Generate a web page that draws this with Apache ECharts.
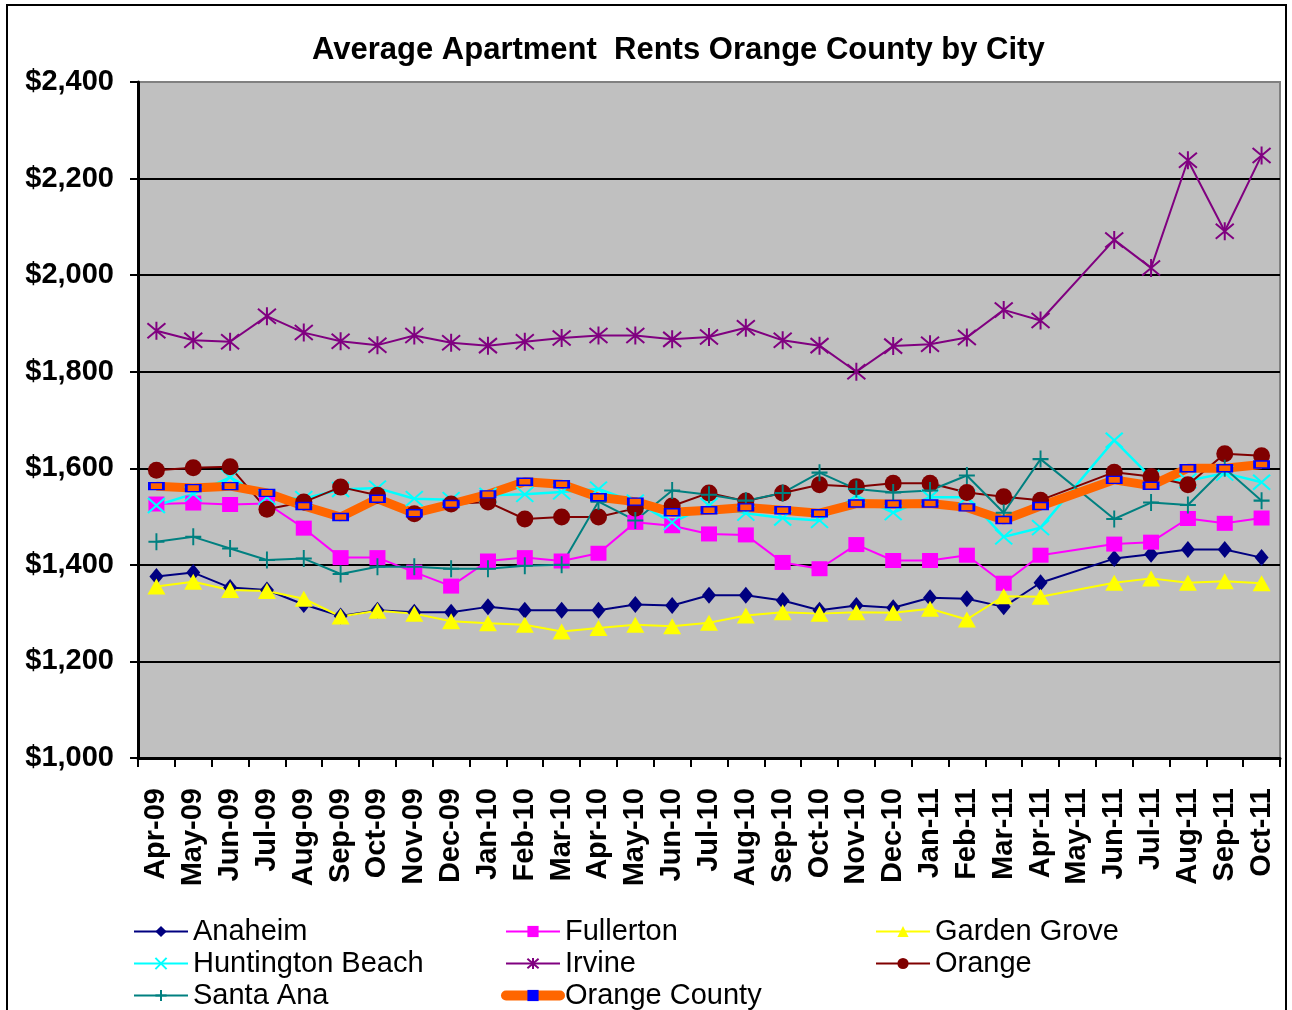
<!DOCTYPE html>
<html>
<head>
<meta charset="utf-8">
<title>Average Apartment Rents Orange County by City</title>
<script src="https://cdn.jsdelivr.net/npm/echarts@6/dist/echarts.min.js"></script>
<style>
  html, body { margin: 0; padding: 0; background: #ffffff; }
  #chart { width: 1292px; height: 1010px; }
</style>
</head>
<body>
<div id="chart"></div>
<script>
// Months on the category axis
const months = ['Apr-09','May-09','Jun-09','Jul-09','Aug-09','Sep-09','Oct-09','Nov-09','Dec-09',
  'Jan-10','Feb-10','Mar-10','Apr-10','May-10','Jun-10','Jul-10','Aug-10','Sep-10','Oct-10','Nov-10','Dec-10',
  'Jan-11','Feb-11','Mar-11','Apr-11','May-11','Jun-11','Jul-11','Aug-11','Sep-11','Oct-11'];

// Average rent per city (May-11 not reported)
const anaheim = [1376,1384,1353,1348,1318,1294,1306,1302,1302,1313,1306,1306,1306,1318,1316,1337,1337,1326,1306,1316,1311,1332,1330,1313,1363,null,1413,1422,1432,1432,1415];
const fullerton = [1526,1528,1525,1527,1476,1415,1415,1385,1356,1408,1415,1408,1424,1488,1481,1464,1462,1405,1392,1442,1409,1409,1420,1362,1420,null,1443,1447,1496,1486,1497];
const gardenGrove = [1355,1365,1348,1346,1330,1293,1305,1299,1283,1279,1276,1262,1269,1276,1273,1280,1295,1302,1299,1302,1301,1309,1287,1335,1334,null,1363,1372,1363,1366,1362];
const huntingtonBeach = [1523,1547,1581,1540,1537,1556,1559,1537,1535,1544,1546,1551,1557,1530,1488,1523,1507,1497,1492,1543,1508,1540,1540,1458,1477,null,1658,1581,1574,1590,1571];
const irvine = [1885,1865,1862,1915,1881,1863,1855,1875,1860,1854,1862,1870,1875,1875,1867,1872,1891,1865,1854,1800,1853,1857,1871,1928,1906,null,2073,2015,2238,2091,2248];
const orange = [1596,1601,1603,1515,1530,1561,1544,1506,1526,1530,1495,1499,1499,1517,1522,1549,1532,1549,1566,1562,1569,1569,1550,1541,1534,null,1592,1583,1566,1630,1626];
const santaAna = [1448,1458,1434,1410,1413,1381,1396,1396,1392,1392,1398,1400,1531,1492,1554,1545,1533,1549,1591,1557,1550,1554,1585,1508,1619,null,1495,1529,1524,1600,1533];
const orangeCounty = [1563,1559,1563,1549,1522,1499,1537,1507,1526,1546,1572,1567,1540,1531,1509,1513,1519,1513,1507,1527,1526,1527,1519,1493,1522,null,1576,1564,1600,1600,1608];

// Value axis range
const rentMin = 1000, rentMax = 2400, rentStep = 200;

const FONT = "'Liberation Sans', Arial, sans-serif";

function money(v) {
  return '$' + String(v).replace(/\B(?=(\d{3})+(?!\d))/g, ',');
}

function lineSeries(name, data, color, symbol, size, extra) {
  const s = {
    name: name,
    type: 'line',
    data: data,
    connectNulls: true,
    symbol: symbol,
    symbolSize: size,
    itemStyle: { color: color },
    lineStyle: { color: color, width: 2 },
    emphasis: { disabled: true }
  };
  return Object.assign(s, extra || {});
}

const chart = echarts.init(document.getElementById('chart'), null, { renderer: 'canvas' });

const legendText = { fontFamily: FONT, fontSize: 29, color: '#000' };
const legendBase = {
  orient: 'vertical',
  top: 917,
  itemWidth: 54,
  itemHeight: 14,
  itemGap: 3,
  padding: 0,
  textStyle: legendText,
  selectedMode: false
};

chart.setOption({
  animation: false,
  backgroundColor: '#ffffff',
  title: {
    text: 'Average Apartment  Rents Orange County by City',
    left: 307,
    top: 30,
    textStyle: { fontFamily: FONT, fontSize: 31, fontWeight: 'bold', color: '#000' }
  },
  graphic: [{
    type: 'rect',
    shape: { x: 7, y: 5, width: 1279, height: 1030 },
    style: { fill: 'none', stroke: '#000', lineWidth: 2 },
    silent: true,
    z: 100
  }],
  legend: [
    Object.assign({ left: 133, data: ['Anaheim', 'Huntington Beach', 'Santa Ana'] }, legendBase),
    Object.assign({ left: 501, data: ['Fullerton', 'Irvine', {
      name: 'Orange County',
      lineStyle: { color: '#FF6600', width: 10, cap: 'round' },
      itemStyle: { color: '#0000FF', borderWidth: 0 }
    }] }, legendBase),
    Object.assign({ left: 875, data: ['Garden Grove', 'Orange'] }, legendBase)
  ],
  grid: {
    left: 138, right: 12, top: 82, bottom: 252,
    show: true,
    backgroundColor: '#C0C0C0',
    borderColor: '#808080',
    borderWidth: 2,
    outerBoundsMode: 'none'
  },
  xAxis: {
    type: 'category',
    data: months,
    boundaryGap: true,
    axisLine: { show: true, lineStyle: { color: '#000', width: 3 } },
    axisTick: { show: true, length: 9, lineStyle: { color: '#000', width: 2 } },
    axisLabel: {
      rotate: 90,
      interval: 0,
      margin: 30,
      fontFamily: FONT,
      fontSize: 29,
      fontWeight: 'bold',
      color: '#000'
    },
    splitLine: { show: false }
  },
  yAxis: {
    type: 'value',
    min: rentMin,
    max: rentMax,
    interval: rentStep,
    axisLine: { show: true, lineStyle: { color: '#000', width: 3 } },
    axisTick: { show: true, length: 8, lineStyle: { color: '#000', width: 2 } },
    axisLabel: {
      margin: 24,
      formatter: money,
      fontFamily: FONT,
      fontSize: 29,
      fontWeight: 'bold',
      color: '#000'
    },
    splitLine: {
      show: true,
      lineStyle: {
        color: ['#000','#000','#000','#000','#000','#000','#000','#808080'],
        width: 2
      }
    }
  },
  series: [
    lineSeries('Anaheim', anaheim, '#000080', 'diamond', [14, 17]),
    lineSeries('Fullerton', fullerton, '#FF00FF', 'rect', [16, 15]),
    lineSeries('Garden Grove', gardenGrove, '#FFFF00', 'triangle', [18, 16]),
    lineSeries('Huntington Beach', huntingtonBeach, '#00FFFF', 'path://M0,0L10,10M10,0L0,10', [17, 15], {
      itemStyle: { color: '#00FFFF', borderColor: '#00FFFF', borderWidth: 2 },
      lineStyle: { color: '#00FFFF', width: 2.5 }
    }),
    lineSeries('Irvine', irvine, '#800080', 'path://M0,0L10,10M10,0L0,10M5,-1L5,11', [18, 18], {
      itemStyle: { color: '#800080', borderColor: '#800080', borderWidth: 2 }
    }),
    lineSeries('Orange', orange, '#800000', 'circle', 17),
    lineSeries('Santa Ana', santaAna, '#008080', 'path://M5,0L5,10M0,5L10,5', [16, 17], {
      itemStyle: { color: '#008080', borderColor: '#008080', borderWidth: 2 }
    }),
    lineSeries('Orange County', orangeCounty, '#FF6600', 'rect', [14, 7], {
      itemStyle: { color: '#FF6600', borderColor: '#0000FF', borderWidth: 2 },
      lineStyle: { color: '#FF6600', width: 9 }
    })
  ]
});
</script>
</body>
</html>
